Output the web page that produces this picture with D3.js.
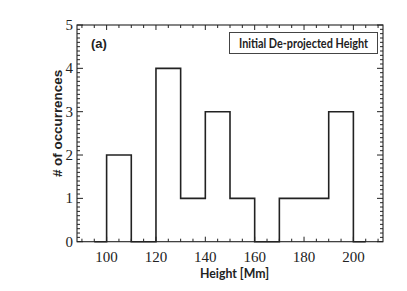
<!DOCTYPE html>
<html><head><meta charset="utf-8">
<script src="https://cdn.jsdelivr.net/npm/d3@7"></script>
<style>body{margin:0;background:#fff}svg{display:block}</style>
</head><body>
<svg id="c" width="407" height="291"></svg>
<script>
const binStarts = [95,100,110,120,130,140,150,160,170,180,190,200];
const counts    = [0,2,0,4,1,3,1,0,1,1,3,0];
const binEnd = 205;
const xTicks = [100,120,140,160,180,200];
const yTicks = [0,1,2,3,4,5];
const xTitle = "Height [Mm]";
const yTitle = "# of occurrences";
const panelLabel = "(a)";
const legendText = "Initial De-projected Height";

const svg = d3.select("#c");
const L=77,R=383,T=25,B=241.7;
const x = d3.scaleLinear().domain([88,212]).range([L,R]);
const y = d3.scaleLinear().domain([0,5]).range([B,T]);
const ink="#222";

const xMinor = d3.range(90,212,5);
const yMinor = d3.range(0,5.001,0.1).map(v=>+v.toFixed(2));

const g = svg.append("g");
// frame
g.append("rect").attr("x",L).attr("y",T).attr("width",R-L).attr("height",B-T)
 .attr("fill","none").attr("stroke",ink).attr("stroke-width",1.1);

// ticks
function tick(x1,y1,x2,y2,w){g.append("line").attr("x1",x1).attr("y1",y1).attr("x2",x2).attr("y2",y2).attr("stroke",ink).attr("stroke-width",w||1);}
xMinor.forEach(v=>{const isMaj = xTicks.includes(v); const len=isMaj?5:3; const px=x(v);
  tick(px,B,px,B-len); tick(px,T,px,T+len);});
yMinor.forEach(v=>{const isMaj = Math.abs(v-Math.round(v))<1e-6; const len=isMaj?6:3; const py=y(v);
  tick(L,py,L+len,py); tick(R,py,R-len,py);});

// tick labels
g.selectAll(".xl").data(xTicks).join("text").attr("x",d=>x(d)).attr("y",262)
 .attr("text-anchor","middle").attr("font-family","Liberation Serif").attr("font-size",15).attr("fill",ink).text(d=>d);
g.selectAll(".yl").data(yTicks).join("text").attr("x",L-4).attr("y",d=>y(d)+5)
 .attr("text-anchor","end").attr("font-family","Liberation Serif").attr("font-size",15).attr("fill",ink).text(d=>d);

// histogram step outline
const pts = binStarts.map((s,i)=>[s,counts[i]]).concat([[binEnd,0]]);
g.append("path").attr("d", d3.line().x(d=>x(d[0])).y(d=>y(d[1])).curve(d3.curveStepAfter)(pts))
 .attr("fill","none").attr("stroke",ink).attr("stroke-width",1.6);

// titles
g.append("text").attr("x",234.5).attr("y",278).attr("text-anchor","middle")
 .attr("font-family","Lato, 'Open Sans', sans-serif").attr("font-weight","bold").attr("font-size",13.5)
 .attr("textLength",69).attr("lengthAdjust","spacingAndGlyphs").attr("fill",ink).text(xTitle);
g.append("text").attr("transform",`translate(62,123.5) rotate(-90)`).attr("text-anchor","middle")
 .attr("font-family","Liberation Sans").attr("font-weight","bold").attr("font-size",13.4).attr("fill",ink).text(yTitle);
g.append("text").attr("x",91).attr("y",47.5)
 .attr("font-family","Liberation Sans").attr("font-weight","bold").attr("font-size",13).attr("fill",ink).text(panelLabel);

// legend
g.append("rect").attr("x",229.5).attr("y",32.5).attr("width",148).attr("height",21)
 .attr("fill","#fff").attr("stroke","#444").attr("stroke-width",1);
g.append("text").attr("x",303.5).attr("y",48).attr("text-anchor","middle")
 .attr("font-family","Lato, 'Open Sans', sans-serif").attr("font-weight","bold").attr("font-size",12.5)
 .attr("textLength",129).attr("lengthAdjust","spacingAndGlyphs").attr("fill",ink).text(legendText);
</script>
</body></html>
